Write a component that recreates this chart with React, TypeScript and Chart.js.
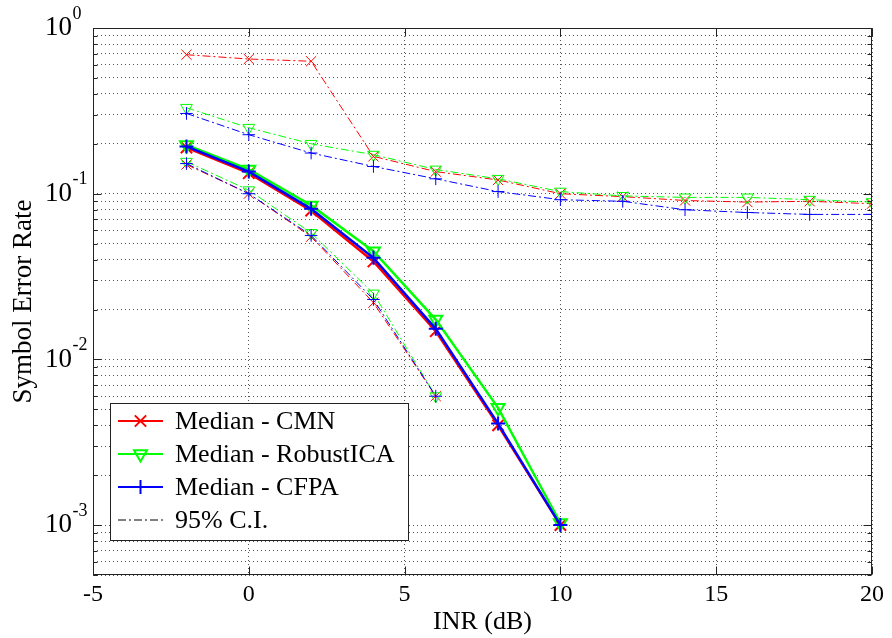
import React, { useEffect, useRef } from 'react';
import { Chart, registerables } from 'chart.js';

Chart.register(...registerables);

// ---------- data ----------
const inr = [-2, 0, 2, 4, 6, 8, 10, 12, 14, 16, 18, 20];

const medianCMN = [0.19, 0.133, 0.079, 0.039, 0.0148, 0.004, 0.001];
const medianRobustICA = [0.197, 0.14, 0.085, 0.045, 0.0174, 0.0051, 0.00103];
const medianCFPA = [0.193, 0.136, 0.081, 0.041, 0.0153, 0.0041, 0.001];

const lowerCMN = [0.15, 0.1, 0.055, 0.022, 0.006];
const lowerRobustICA = [0.156, 0.105, 0.058, 0.025, 0.006];
const lowerCFPA = [0.152, 0.1, 0.056, 0.023, 0.006];

const upperCMN = [0.69, 0.65, 0.63, 0.168, 0.136, 0.121, 0.1, 0.096, 0.091, 0.089, 0.09, 0.087];
const upperRobustICA = [0.33, 0.25, 0.2, 0.172, 0.14, 0.123, 0.103, 0.097, 0.095, 0.095, 0.092, 0.089];
const upperCFPA = [0.305, 0.227, 0.176, 0.146, 0.123, 0.103, 0.092, 0.09, 0.08, 0.077, 0.075, 0.075];

const xTickValues = [-5, 0, 5, 10, 15, 20];
const yDecades = [1e-3, 1e-2, 1e-1, 1];
const yExponents = ['-3', '-2', '-1', '0'];
const yGridValues = [
  5e-4, 6e-4, 7e-4, 8e-4, 9e-4,
  1e-3, 2e-3, 3e-3, 4e-3, 5e-3, 6e-3, 7e-3, 8e-3, 9e-3,
  1e-2, 2e-2, 3e-2, 4e-2, 5e-2, 6e-2, 7e-2, 8e-2, 9e-2,
  0.1, 0.2, 0.3, 0.4, 0.5, 0.6, 0.7, 0.8, 0.9, 1,
];

const legendLabels = ['Median - CMN', 'Median - RobustICA', 'Median - CFPA', '95% C.I.'];
const xTitle = 'INR (dB)';
const yTitle = 'Symbol Error Rate';

// ---------- styles ----------
const FONT = '"Liberation Serif", "Times New Roman", serif';
const RED = 'rgb(255,0,0)';
const GREEN = 'rgb(0,255,0)';
const BLUE = 'rgb(0,0,255)';
const DASHDOT = [8, 3, 2, 3];
const GRID_DASH = [1, 3];
const GRID_COLOR = '#555';

type Marker = 'crossRot' | 'triangle' | 'cross';
const markerRadius: Record<Marker, number> = { crossRot: 8, triangle: 7.5, cross: 7 };

function toPoints(vals: (number | null)[]) {
  return vals.map((v, i) => ({ x: inr[i], y: v }));
}

function makeSet(label: string, vals: number[], color: string, marker: Marker, median: boolean, order: number) {
  return {
    label,
    data: toPoints(vals),
    borderColor: color,
    backgroundColor: color,
    borderWidth: median ? 2.5 : 1,
    borderDash: median ? [] : DASHDOT,
    pointStyle: marker,
    pointRotation: marker === 'triangle' ? 180 : 0,
    pointRadius: markerRadius[marker] * (median ? 1 : 0.9),
    pointBorderWidth: median ? 2 : 1,
    pointBorderColor: color,
    pointBackgroundColor: 'rgba(0,0,0,0)',
    fill: false,
    tension: 0,
    order,
  };
}

function drawMarker(ctx: CanvasRenderingContext2D, m: Marker, cx: number, cy: number, r: number) {
  ctx.beginPath();
  if (m === 'crossRot') {
    const d = r * Math.SQRT1_2;
    ctx.moveTo(cx - d, cy - d); ctx.lineTo(cx + d, cy + d);
    ctx.moveTo(cx - d, cy + d); ctx.lineTo(cx + d, cy - d);
  } else if (m === 'cross') {
    ctx.moveTo(cx - r, cy); ctx.lineTo(cx + r, cy);
    ctx.moveTo(cx, cy - r); ctx.lineTo(cx, cy + r);
  } else {
    const s = r * Math.sin(Math.PI / 3);
    ctx.moveTo(cx, cy + r);
    ctx.lineTo(cx - s, cy - r / 2);
    ctx.lineTo(cx + s, cy - r / 2);
    ctx.closePath();
  }
  ctx.stroke();
}

const legendItems: { color: string; marker: Marker | null; dash: number[]; width: number }[] = [
  { color: RED, marker: 'crossRot', dash: [], width: 2 },
  { color: GREEN, marker: 'triangle', dash: [], width: 2 },
  { color: BLUE, marker: 'cross', dash: [], width: 2 },
  { color: '#000', marker: null, dash: DASHDOT, width: 1 },
];

const framePlugin = {
  id: 'matlabFrame',
  afterDraw(chart: any) {
    const { ctx, chartArea: a, scales } = chart;
    const xs = scales.x;
    const ys = scales.y;
    ctx.save();
    ctx.setLineDash([]);
    ctx.strokeStyle = '#222';
    ctx.lineWidth = 1;
    const L = Math.round(a.left) + 0.5;
    const R = Math.round(a.right) - 0.5;
    const T = Math.round(a.top) + 0.5;
    const B = Math.round(a.bottom) - 0.5;
    ctx.strokeRect(L, T, R - L, B - T);

    // x tick marks (inside, top and bottom)
    ctx.beginPath();
    xTickValues.forEach((v) => {
      const px = Math.round(xs.getPixelForValue(v)) + 0.5;
      ctx.moveTo(px, B); ctx.lineTo(px, B - 8);
      ctx.moveTo(px, T); ctx.lineTo(px, T + 8);
    });
    // y tick marks (inside, left and right)
    yGridValues.forEach((v) => {
      const py = Math.round(ys.getPixelForValue(v)) + 0.5;
      const major = yDecades.some((d) => Math.abs(d - v) < d * 1e-6);
      const len = major ? 8 : 4;
      ctx.moveTo(L, py); ctx.lineTo(L + len, py);
      ctx.moveTo(R, py); ctx.lineTo(R - len, py);
    });
    ctx.stroke();

    // y tick labels: 10^n
    ctx.fillStyle = '#000';
    ctx.textBaseline = 'middle';
    ctx.textAlign = 'left';
    yDecades.forEach((d, i) => {
      const py = ys.getPixelForValue(d);
      ctx.font = `27px ${FONT}`;
      ctx.fillText('10', 45, py);
      const w = ctx.measureText('10').width;
      ctx.font = `18px ${FONT}`;
      ctx.fillText(yExponents[i], 45 + w + 0.5, py - 14);
    });

    // legend
    const lx = a.left + 17;
    const ly = a.top + 375;
    const lw = 298;
    const lh = 137;
    ctx.fillStyle = '#fff';
    ctx.fillRect(lx, ly, lw, lh);
    ctx.strokeStyle = '#222';
    ctx.lineWidth = 1;
    ctx.strokeRect(Math.round(lx) + 0.5, Math.round(ly) + 0.5, lw, lh);
    legendItems.forEach((it, i) => {
      const cy = ly + 18 + i * 33;
      ctx.strokeStyle = it.color;
      ctx.lineWidth = it.width;
      ctx.setLineDash(it.dash);
      ctx.beginPath();
      ctx.moveTo(lx + 8, cy); ctx.lineTo(lx + 53, cy);
      ctx.stroke();
      ctx.setLineDash([]);
      if (it.marker) drawMarker(ctx, it.marker, lx + 30.5, cy, markerRadius[it.marker]);
      ctx.fillStyle = '#000';
      ctx.font = `26px ${FONT}`;
      ctx.textBaseline = 'middle';
      ctx.fillText(legendLabels[i], lx + 65, cy + 1);
    });
    ctx.restore();
  },
};

export default function App() {
  const ref = useRef<HTMLCanvasElement | null>(null);
  useEffect(() => {
    if (!ref.current) return;
    const datasets = [
      makeSet('Median - CFPA', medianCFPA, BLUE, 'cross', true, 0),
      makeSet('Median - CMN', medianCMN, RED, 'crossRot', true, 2),
      makeSet('Median - RobustICA', medianRobustICA, GREEN, 'triangle', true, 1),
      makeSet('Lower CI - CFPA', lowerCFPA, BLUE, 'cross', false, 3),
      makeSet('Lower CI - CMN', lowerCMN, RED, 'crossRot', false, 5),
      makeSet('Lower CI - RobustICA', lowerRobustICA, GREEN, 'triangle', false, 4),
      makeSet('Upper CI - CFPA', upperCFPA, BLUE, 'cross', false, 6),
      makeSet('Upper CI - CMN', upperCMN, RED, 'crossRot', false, 8),
      makeSet('Upper CI - RobustICA', upperRobustICA, GREEN, 'triangle', false, 7),
    ];
    const chart = new Chart(ref.current, {
      type: 'line',
      data: { datasets } as any,
      options: {
        animation: false,
        responsive: false,
        maintainAspectRatio: false,
        devicePixelRatio: 1,
        layout: { padding: { top: 28, right: 17, left: 0, bottom: 0 } },
        plugins: { legend: { display: false }, tooltip: { enabled: false }, title: { display: false } },
        scales: {
          x: {
            type: 'linear',
            min: -5,
            max: 20,
            afterBuildTicks: (s: any) => { s.ticks = xTickValues.map((v) => ({ value: v })); },
            afterFit: (s: any) => { s.height = 63; },
            ticks: {
              color: '#000',
              font: { family: FONT, size: 24, lineHeight: 1 },
              padding: 8,
              maxRotation: 0,
              callback: (v: any) => String(v),
            },
            grid: { color: GRID_COLOR, lineWidth: 1, drawTicks: false },
            border: { display: false, dash: GRID_DASH },
            title: {
              display: true,
              text: xTitle,
              color: '#000',
              font: { family: FONT, size: 26, lineHeight: 1 },
              padding: { top: 0, bottom: 3 },
            },
          },
          y: {
            type: 'logarithmic',
            min: 5e-4,
            max: 1,
            afterBuildTicks: (s: any) => { s.ticks = yGridValues.map((v) => ({ value: v })); },
            afterFit: (s: any) => { s.width = 93; },
            ticks: { display: false },
            grid: { color: GRID_COLOR, lineWidth: 1, drawTicks: false },
            border: { display: false, dash: GRID_DASH },
            title: {
              display: true,
              text: yTitle,
              color: '#000',
              font: { family: FONT, size: 27, lineHeight: 1 },
              padding: { top: 10, bottom: 0 },
            },
          },
        },
      } as any,
      plugins: [framePlugin],
    });
    return () => chart.destroy();
  }, []);
  return (
    <div style={{ position: 'fixed', left: 0, top: 0, width: 892, height: 638, background: '#fff' }}>
      <canvas ref={ref} width={892} height={638} style={{ display: 'block' }} />
    </div>
  );
}
